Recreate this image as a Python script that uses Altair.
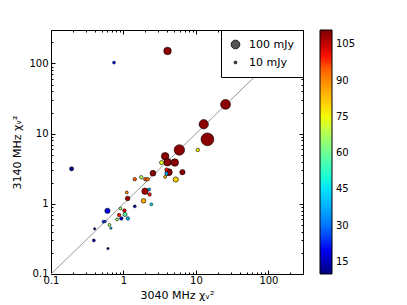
import altair as alt
import pandas as pd
import numpy as np

# ---- data ----
x3040 = [4.05, 0.74, 25.6, 12.8, 14.4, 10.6, 5.9, 3.76, 4.05, 5.1,
         3.35, 0.192, 2.55, 6.5, 4.22, 3.92, 3.92, 3.76, 5.27, 1.43,
         1.76, 2.0, 2.15, 1.98, 2.26, 2.29, 1.89, 1.11, 1.14,
         1.43, 2.42, 0.6, 0.906, 1.03, 0.87, 1.05, 0.935, 1.15, 0.815,
         0.53, 0.56, 0.64, 0.67, 0.40, 0.39, 0.61]
y3140 = [151, 103, 26.1, 13.6, 8.3, 5.86, 5.86, 4.76, 3.91, 3.87,
         3.87, 3.15, 2.73, 2.82, 2.82, 3.07, 2.70, 2.42, 2.22, 2.24,
         2.39, 2.24, 2.24, 1.51, 1.60, 1.36, 1.10, 1.45, 1.19,
         0.92, 0.98, 0.795, 0.86, 0.80, 0.69, 0.705, 0.618, 0.618, 0.60,
         0.555, 0.56, 0.50, 0.45, 0.44, 0.30, 0.23]
flux_mjy = [75, 11, 128, 114, 215, 16, 144, 75, 75, 75,
            22, 22, 44, 36, 64, 16, 16, 11, 36, 16,
            16, 16, 16, 54, 11, 16, 28, 11, 28,
            11, 11, 36, 11, 16, 16, 22, 16, 16, 11,
            11, 7, 11, 7, 7, 11, 7]
color_val = [110, 22, 110, 110, 110, 76, 110, 110, 110, 110,
             74, 12, 110, 110, 110, 100, 38, 84, 80, 95,
             68, 95, 93, 108, 36, 100, 85, 88, 108,
             13, 44, 20, 66, 102, 100, 58, 16, 38, 65,
             25, 28, 66, 42, 12, 13, 12]

diag = [0.1, 300]
major_ticks = [0.1, 1, 10, 100]
minor_ticks = [m * 10.0 ** e for e in range(-1, 3) for m in range(2, 10) if m * 10.0 ** e <= 300]
colorbar_ticks = [15, 30, 45, 60, 75, 90, 105]
size_legend_vals = [100, 10]
cmin, cmax = 10, 111

# jet colormap stops
jet_f = [0, 0.11, 0.125, 0.34, 0.35, 0.375, 0.64, 0.65, 0.66, 0.89, 0.91, 1.0]


def jet(f):
    r = np.interp(f, [0, .35, .66, .89, 1], [0, 0, 1, 1, .5])
    g = np.interp(f, [0, .125, .375, .64, .91, 1], [0, 0, 1, 1, 0, 0])
    b = np.interp(f, [0, .11, .34, .65, 1], [.5, 1, 1, 0, 0])
    return "#%02x%02x%02x" % (int(round(r * 255)), int(round(g * 255)), int(round(b * 255)))


c_domain = [cmin + f * (cmax - cmin) for f in jet_f]
c_range = [jet(f) for f in jet_f]

df = pd.DataFrame({"x": x3040, "y": y3140, "flux": flux_mjy, "c": color_val})
ddf = pd.DataFrame({"d": diag})

FONT = "DejaVu Sans"
xscale = alt.Scale(type="log", domain=[0.0999, 300], nice=False)
yscale = alt.Scale(type="log", domain=[0.0999, 300], nice=False)

# layer 1: diagonal with major bottom/left axes (labels + titles)
line = alt.Chart(ddf).mark_line(color="#999999", strokeWidth=1).encode(
    x=alt.X("d:Q", scale=xscale,
            axis=alt.Axis(orient="bottom", values=major_ticks, format="~g",
                          tickSize=alt.ExprRef("-4"), labelPadding=5, labelFlush=False,
                          domain=False, grid=False, labelOverlap=False,
                          title="3040 MHz χᵥ²", titlePadding=4)),
    y=alt.Y("d:Q", scale=yscale,
            axis=alt.Axis(orient="left", values=major_ticks, format="~g",
                          tickSize=alt.ExprRef("-4"), labelPadding=7, labelFlush=False,
                          domain=False, grid=False, labelOverlap=False,
                          title="3140 MHz χᵥ²", titlePadding=6)),
)

# layer 2: scatter with major top/right ticks
pts = alt.Chart(df).mark_circle(stroke="black", strokeWidth=0.6, opacity=1).encode(
    x=alt.X("x:Q", scale=xscale,
            axis=alt.Axis(orient="top", values=major_ticks, tickSize=alt.ExprRef("-4"),
                          labels=False, domain=False, grid=False, title=None)),
    y=alt.Y("y:Q", scale=yscale,
            axis=alt.Axis(orient="right", values=major_ticks, tickSize=alt.ExprRef("-4"),
                          labels=False, domain=False, grid=False, title=None)),
    color=alt.Color("c:Q", scale=alt.Scale(domain=c_domain, range=c_range),
                    legend=alt.Legend(orient="right", offset=16, padding=0, title=None,
                                      type="gradient", direction="vertical",
                                      gradientLength=244, gradientThickness=12,
                                      gradientStrokeColor="black", gradientStrokeWidth=1,
                                      values=colorbar_ticks, labelOverlap=False,
                                      labelFontSize=10, labelFont=FONT, labelColor="black",
                                      labelOffset=4)),
    size=alt.Size("flux:Q", scale=alt.Scale(type="linear", domain=[0, 100], range=[0, 76]),
                  legend=alt.Legend(orient="top-right", offset=0, padding=9, title=None,
                                    values=size_legend_vals,
                                    labelExpr="datum.value + ' mJy'",
                                    strokeColor="black", fillColor="white",
                                    symbolFillColor="#555555", symbolStrokeColor="black",
                                    symbolStrokeWidth=0.8, symbolType="circle",
                                    labelFontSize=11, labelFont=FONT, labelColor="black",
                                    labelOffset=8, rowPadding=5, cornerRadius=0)),
)

# layer 3: minor bottom/left ticks
minor_a = alt.Chart(ddf).mark_point(opacity=0).encode(
    x=alt.X("d:Q", scale=xscale,
            axis=alt.Axis(orient="bottom", values=minor_ticks, tickSize=alt.ExprRef("-2"),
                          labels=False, domain=False, grid=False, title=None)),
    y=alt.Y("d:Q", scale=yscale,
            axis=alt.Axis(orient="left", values=minor_ticks, tickSize=alt.ExprRef("-2"),
                          labels=False, domain=False, grid=False, title=None)),
)

# layer 4: minor top/right ticks
minor_b = alt.Chart(ddf).mark_point(opacity=0).encode(
    x=alt.X("d:Q", scale=xscale,
            axis=alt.Axis(orient="top", values=minor_ticks, tickSize=alt.ExprRef("-2"),
                          labels=False, domain=False, grid=False, title=None)),
    y=alt.Y("d:Q", scale=yscale,
            axis=alt.Axis(orient="right", values=minor_ticks, tickSize=alt.ExprRef("-2"),
                          labels=False, domain=False, grid=False, title=None)),
)

chart = alt.layer(line, minor_a, minor_b, pts).resolve_axis(
    x="independent", y="independent"
).properties(
    width=252, height=244,
    padding={"left": 43, "top": 22, "right": 60, "bottom": 28},
    autosize=alt.AutoSizeParams(type="none"),
).configure_view(
    stroke="black", strokeWidth=1
).configure_axis(
    labelFont=FONT, labelFontSize=10, labelColor="black",
    titleFont=FONT, titleFontSize=11, titleFontWeight="normal", titleColor="black",
    tickColor="black", tickWidth=1,
)

chart.save("out.html", embed_options={"renderer": "svg", "actions": False})
